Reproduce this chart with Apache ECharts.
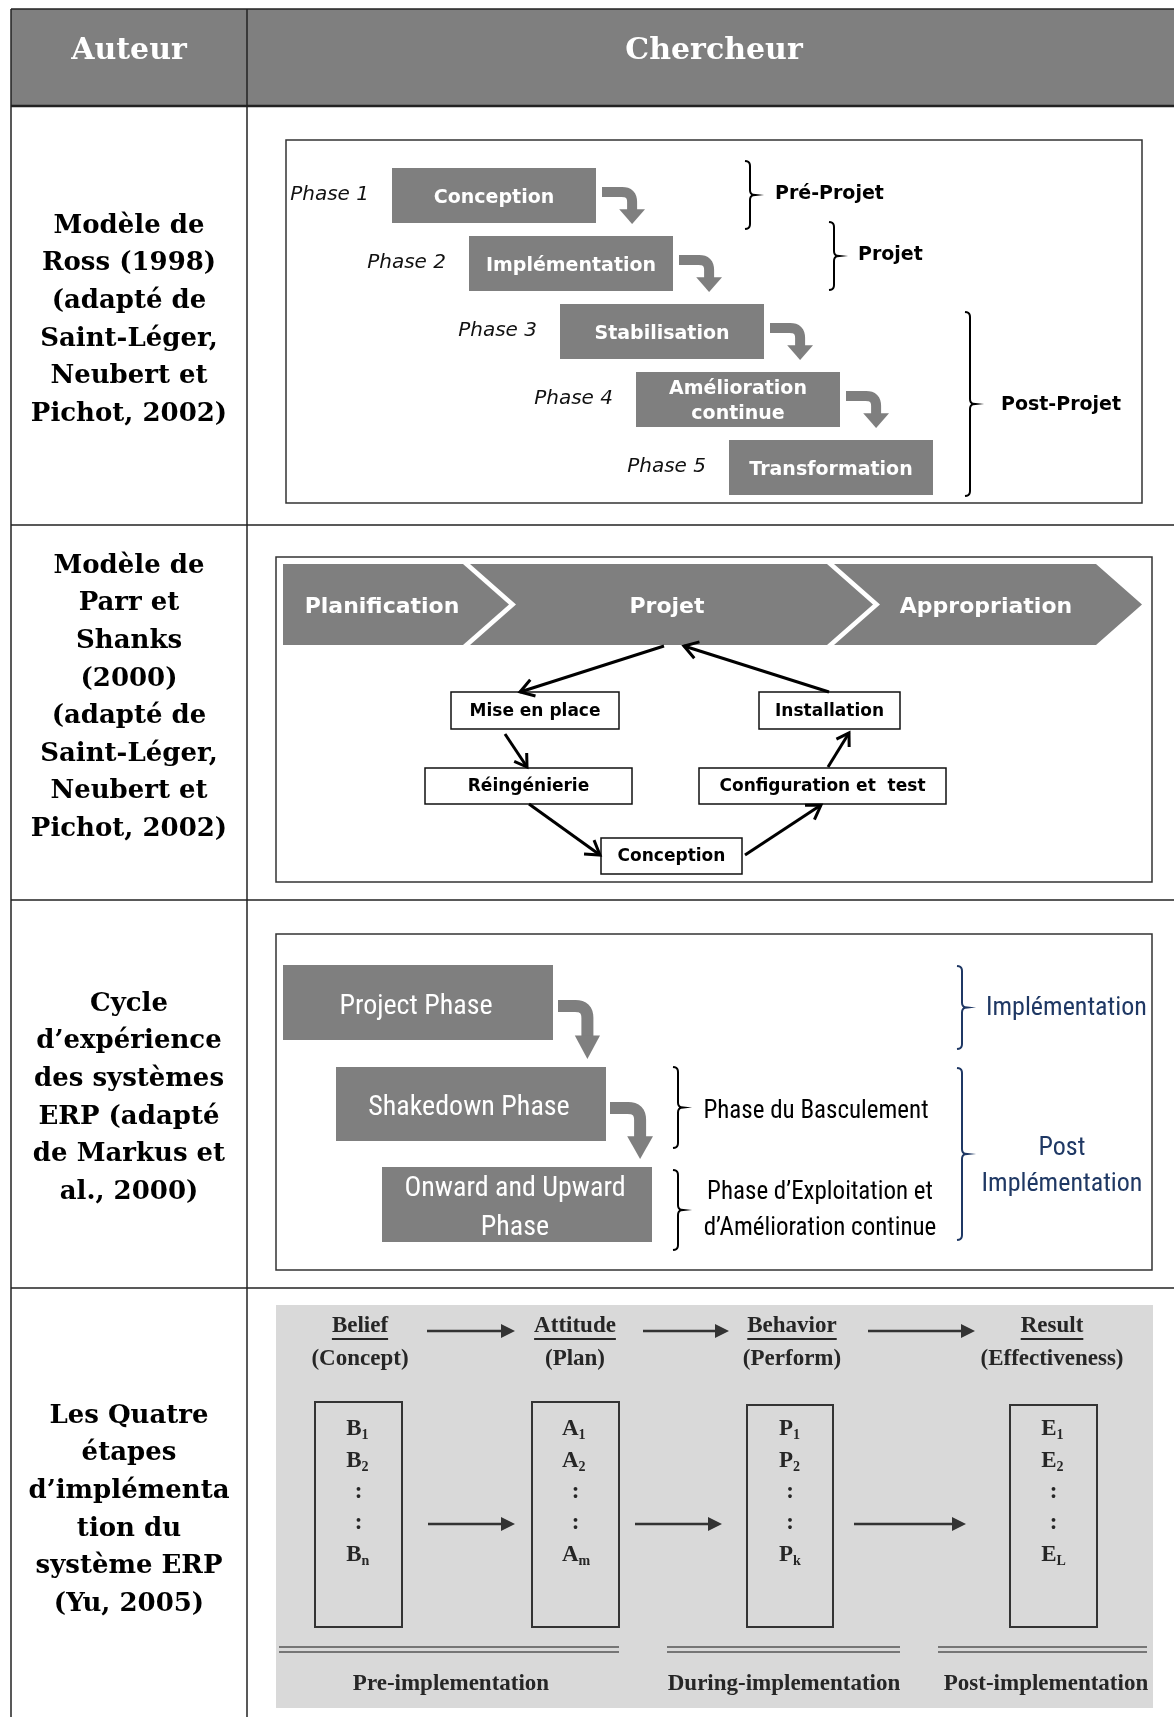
<!DOCTYPE html>
<html><head><meta charset="utf-8">
<script src="https://cdn.jsdelivr.net/npm/echarts@6/dist/echarts.min.js"></script>
<style>html,body{margin:0;padding:0;background:#fff}#c{width:1174px;height:1717px}</style>
</head><body><div id="c"></div>
<script>
// ---- content ----
const headerLabels = ['Auteur', 'Chercheur'];
const authorRows = [
  ['Modèle de', 'Ross (1998)', '(adapté de', 'Saint-Léger,', 'Neubert et', 'Pichot, 2002)'],
  ['Modèle de', 'Parr et', 'Shanks', '(2000)', '(adapté de', 'Saint-Léger,', 'Neubert et', 'Pichot, 2002)'],
  ['Cycle', 'd’expérience', 'des systèmes', 'ERP (adapté', 'de Markus et', 'al., 2000)'],
  ['Les Quatre', 'étapes', 'd’implémenta', 'tion du', 'système ERP', '(Yu, 2005)']
];
const rossPhases = ['Phase 1', 'Phase 2', 'Phase 3', 'Phase 4', 'Phase 5'];
const rossSteps = ['Conception', 'Implémentation', 'Stabilisation', 'Amélioration\ncontinue', 'Transformation'];
const rossGroups = ['Pré-Projet', 'Projet', 'Post-Projet'];
const parrStages = ['Planification', 'Projet', 'Appropriation'];
const parrActivities = ['Mise en place', 'Réingénierie', 'Conception', 'Configuration et  test', 'Installation'];
const markusPhases = ['Project Phase', 'Shakedown Phase', 'Onward and Upward\nPhase'];
const markusLabels = ['Phase du Basculement', 'Phase d’Exploitation et\nd’Amélioration continue'];
const markusGroups = ['Implémentation', 'Post\nImplémentation'];
const yuStages = ['Belief', 'Attitude', 'Behavior', 'Result'];
const yuMeanings = ['(Concept)', '(Plan)', '(Perform)', '(Effectiveness)'];
const yuLetters = ['B', 'A', 'P', 'E'];
const yuSubs = [['1', '2', 'n'], ['1', '2', 'm'], ['1', '2', 'k'], ['1', '2', 'L']];
const yuPeriods = ['Pre-implementation', 'During-implementation', 'Post-implementation'];

// ---- helpers ----
const G = [];
const mctx = document.createElement('canvas').getContext('2d');
function tw(s, font) { mctx.font = font; return mctx.measureText(s).width; }
function R(x, y, w, h, fill, stroke, lw) {
  const style = {fill: fill || 'none'};
  if (stroke) { style.stroke = stroke; style.lineWidth = lw || 1; }
  G.push({type: 'rect', silent: true, shape: {x, y, width: w, height: h}, style});
}
function T(x, y, text, font, color, align, va, lh) {
  const style = {text, font, fill: color, align: align || 'center', verticalAlign: va || 'middle',
    textAlign: align || 'center', textVerticalAlign: va || 'middle'};
  if (lh) style.lineHeight = lh;
  G.push({type: 'text', silent: true, x, y, style});
}
function L(x1, y1, x2, y2, color, lw) {
  G.push({type: 'line', silent: true, shape: {x1, y1, x2, y2}, style: {stroke: color, lineWidth: lw}});
}
function PL(points, color, lw) {
  G.push({type: 'polyline', silent: true, shape: {points}, style: {stroke: color, lineWidth: lw, fill: null}});
}
function Poly(points, fill) {
  G.push({type: 'polygon', silent: true, shape: {points}, style: {fill}});
}
function quad(p0, p1, p2, n) {
  const out = [];
  for (let i = 0; i <= n; i++) {
    const t = i / n, u = 1 - t;
    out.push([u * u * p0[0] + 2 * u * t * p1[0] + t * t * p2[0], u * u * p0[1] + 2 * u * t * p1[1] + t * t * p2[1]]);
  }
  return out;
}
function bent(x, y, w, h, lw, color) {
  const cx = x + w * 0.7, hy = y + h * 0.6, hw = (x + w) - cx, yt = y + lw / 2;
  const pts = [[x, yt]].concat(quad([cx - lw, yt], [cx, yt], [cx, yt + lw], 8)).concat([[cx, hy + 1]]);
  PL(pts, color, lw);
  Poly([[cx - hw, hy], [cx + hw, hy], [cx, y + h]], color);
}
function brace(x, y1, y2, color, lw) {
  const m = (y1 + y2) / 2, r = 5;
  let pts = quad([x - 5, y1], [x, y1], [x, y1 + r], 5);
  pts = pts.concat(quad([x, m - r], [x, m], [x + 5, m], 5));
  pts = pts.concat(quad([x + 5, m], [x, m], [x, m + r], 5));
  pts = pts.concat(quad([x, y2 - r], [x, y2], [x - 5, y2], 5));
  PL(pts, color, lw);
}
function arrowOpen(x1, y1, x2, y2, color, lw, hl) {
  const a = Math.atan2(y2 - y1, x2 - x1);
  L(x1, y1, x2, y2, color, lw);
  const a1 = a + Math.PI * 0.82, a2 = a - Math.PI * 0.82;
  PL([[x2 + hl * Math.cos(a1), y2 + hl * Math.sin(a1)], [x2, y2], [x2 + hl * Math.cos(a2), y2 + hl * Math.sin(a2)]], color, lw);
}
function arrowFill(x1, y, x2, color, lw, hl, hw) {
  L(x1, y, x2 - hl, y, color, lw);
  Poly([[x2, y], [x2 - hl, y - hw / 2], [x2 - hl, y + hw / 2]], color);
}
function chevron(x0, x1, y0, y1, d, notch, fill) {
  const m = (y0 + y1) / 2;
  const pts = notch ? [[x0, y0], [x1, y0], [x1 + d, m], [x1, y1], [x0, y1], [x0 + d, m]]
                    : [[x0, y0], [x1, y0], [x1 + d, m], [x1, y1], [x0, y1]];
  Poly(pts, fill);
}

const GRAY = '#7f7f7f';
const SERIF_B = 'bold 26px "DejaVu Serif"';

// ---- table ----
R(11, 9, 1163, 97, GRAY);
T(129, 51, headerLabels[0], 'bold 30px "DejaVu Serif"', '#fff');
T(714, 51, headerLabels[1], 'bold 30px "DejaVu Serif"', '#fff');
L(11, 9, 1174, 9, '#222', 1.5);
L(11, 106, 1174, 106, '#222', 2.5);
[525, 900, 1288].forEach(y => L(11, y, 1174, y, '#222', 1.5));
L(11, 9, 11, 1717, '#222', 1.5);
L(247, 9, 247, 1717, '#222', 1.5);

const authorY0 = [226, 566, 1004, 1416];
authorRows.forEach((lines, i) => {
  lines.forEach((s, j) => T(129, authorY0[i] + j * 37.6, s, SERIF_B, '#000'));
});

// ---- panel 1 : Ross ----
R(286, 140, 856, 363, '#fff', '#333', 1.5);
const rbx = [392, 469, 560, 636, 729], rby = [168, 236, 304, 372, 440];
rossSteps.forEach((s, i) => {
  R(rbx[i], rby[i], 204, 55, GRAY);
  T(rbx[i] + 102, rby[i] + 30, s, 'bold 19px "DejaVu Sans"', '#fff', 'center', 'middle', 25);
  T(rbx[i] - 23, rby[i] + 27, rossPhases[i], 'italic 20px "DejaVu Sans"', '#111', 'right');
  if (i < 4) bent(rbx[i] + 210, rby[i] + 19, 43, 37, 10, GRAY);
});
brace(750, 161, 229, '#000', 2);
T(775, 194, rossGroups[0], 'bold 19px "DejaVu Sans"', '#000', 'left');
brace(834, 222, 290, '#000', 2);
T(858, 255, rossGroups[1], 'bold 19px "DejaVu Sans"', '#000', 'left');
brace(970, 312, 496, '#000', 2);
T(1001, 405, rossGroups[2], 'bold 19px "DejaVu Sans"', '#000', 'left');

// ---- panel 2 : Parr & Shanks ----
R(276, 557, 876, 325, '#fff', '#333', 1.5);
chevron(283, 463, 564, 645, 46, false, GRAY);
chevron(470, 827, 564, 645, 46, true, GRAY);
chevron(834, 1096, 564, 645, 46, true, GRAY);
T(382, 607, parrStages[0], 'bold 22px "DejaVu Sans"', '#fff');
T(667, 607, parrStages[1], 'bold 22px "DejaVu Sans"', '#fff');
T(986, 607, parrStages[2], 'bold 22px "DejaVu Sans"', '#fff');
const pBoxes = [[451, 692, 168, 37], [425, 768, 207, 36], [601, 838, 141, 36], [699, 768, 247, 36], [759, 692, 141, 37]];
pBoxes.forEach((b, i) => {
  R(b[0], b[1], b[2], b[3], '#fff', '#111', 1.5);
  T(b[0] + b[2] / 2, b[1] + b[3] / 2 + 1, parrActivities[i], 'bold 17px "DejaVu Sans"', '#000');
});
arrowOpen(664, 646, 520, 692, '#000', 3, 16);
arrowOpen(829, 692, 684, 646, '#000', 3, 16);
arrowOpen(505, 734, 527, 767, '#000', 3, 14);
arrowOpen(529, 804, 600, 855, '#000', 3, 16);
arrowOpen(745, 855, 821, 805, '#000', 3, 16);
arrowOpen(828, 767, 849, 733, '#000', 3, 14);

// ---- panel 3 : Markus ----
R(276, 934, 876, 336, '#fff', '#333', 1.5);
const mBoxes = [[283, 965, 270, 75], [336, 1067, 270, 74], [382, 1167, 270, 75]];
const NARF = '"Liberation Sans Narrow", "Roboto Condensed", Roboto';
mBoxes.forEach((b, i) => {
  R(b[0], b[1], b[2], b[3], GRAY);
  T(b[0] + b[2] / 2 - 2, b[1] + b[3] / 2 + 4, markusPhases[i], '28px ' + NARF, '#fff', 'center', 'middle', 39);
});
bent(558, 1000, 42, 59, 12, GRAY);
bent(610, 1102, 43, 57, 12, GRAY);
const NAVY = '#1f3864';
brace(962, 966, 1049, NAVY, 2);
T(986, 1008, markusGroups[0], '26px ' + NARF, NAVY, 'left');
brace(962, 1068, 1240, NAVY, 2);
T(1062, 1166, markusGroups[1], '26px ' + NARF, NAVY, 'center', 'middle', 36);
brace(678, 1067, 1148, '#000', 2);
T(816, 1112, markusLabels[0], '25px ' + NARF, '#000');
brace(678, 1170, 1250, '#000', 2);
T(820, 1211, markusLabels[1], '25px ' + NARF, '#000', 'center', 'middle', 36);

// ---- panel 4 : Yu ----
R(276, 1305, 877, 403, '#d9d9d9');
const INK = '#262626';
const YF = 'bold 23px "Liberation Serif"';
const ycx = [360, 575, 792, 1052];
yuStages.forEach((s, i) => {
  T(ycx[i], 1326, s, YF, INK);
  const w = tw(s, YF);
  L(ycx[i] - w / 2, 1339, ycx[i] + w / 2, 1339, INK, 2);
  T(ycx[i], 1359, yuMeanings[i], YF, INK);
});
[[427, 515], [643, 729], [868, 975]].forEach(a => arrowFill(a[0], 1331, a[1], '#333', 2.5, 14, 14));
[[428, 515], [635, 722], [854, 966]].forEach(a => arrowFill(a[0], 1524, a[1], '#333', 2.5, 14, 14));
const yBoxes = [[315, 1402, 87, 225], [532, 1402, 87, 225], [747, 1405, 86, 222], [1010, 1405, 87, 222]];
const rowY = [1429, 1461, 1492, 1523, 1555];
yBoxes.forEach((b, i) => {
  R(b[0], b[1], b[2], b[3], 'none', '#333', 2);
  const cx = b[0] + b[2] / 2 + 3;
  [0, 1, 4].forEach((r, k) => {
    T(cx, rowY[r], yuLetters[i], YF, INK, 'right');
    T(cx, rowY[r] + 6, yuSubs[i][k], 'bold 14px "Liberation Serif"', INK, 'left');
  });
  [2, 3].forEach(r => T(cx - 3, rowY[r], ':', YF, INK));
});
[[279, 619], [667, 900], [938, 1147]].forEach(s => {
  L(s[0], 1647, s[1], 1647, '#555', 1.5);
  L(s[0], 1652, s[1], 1652, '#555', 1.5);
});
const pcx = [451, 784, 1046];
yuPeriods.forEach((s, i) => T(pcx[i], 1684, s, YF, INK));

const chart = echarts.init(document.getElementById('c'), null, {renderer: 'canvas'});
chart.setOption({animation: false, backgroundColor: '#fff', graphic: {elements: G}});
</script></body></html>
